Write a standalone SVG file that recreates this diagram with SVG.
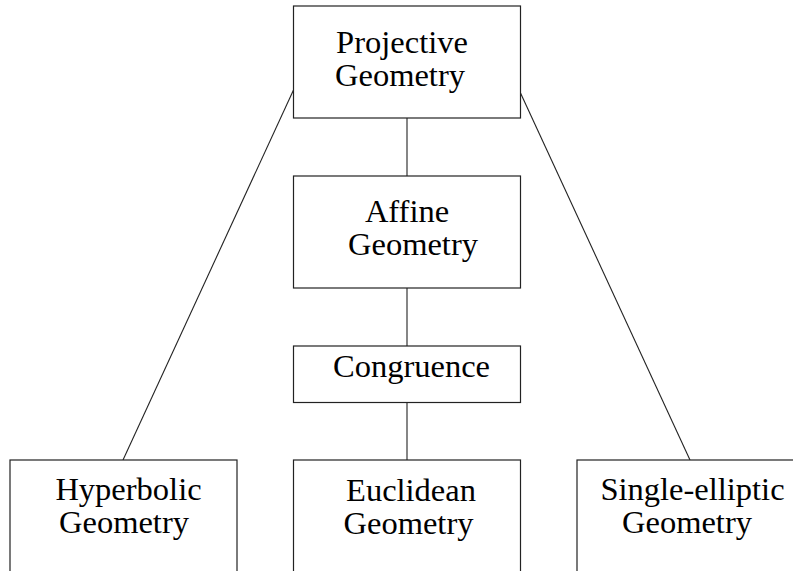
<svg xmlns="http://www.w3.org/2000/svg" width="793" height="571" viewBox="0 0 793 571">
<style>
.box{fill:#fff;stroke:#222;stroke-width:1.2}
line{stroke:#222;stroke-width:1.1}
text{font-family:"Liberation Serif","DejaVu Serif",serif;font-size:32.5px;fill:#000;text-anchor:middle}
</style>
<rect x="0" y="0" width="793" height="571" fill="#fff"/>
<g id="connectors">
<line x1="407" y1="118" x2="407" y2="176"/>
<line x1="407" y1="288" x2="407" y2="346"/>
<line x1="407" y1="402.5" x2="407" y2="460"/>
<line x1="293.5" y1="90" x2="123" y2="460"/>
<line x1="520.5" y1="93" x2="690" y2="460"/>
</g>
<g id="projective">
<rect class="box" x="293.5" y="6" width="227" height="112"/>
<text x="402" y="52.5">Projective</text>
<text x="400" y="85.5">Geometry</text>
</g>
<g id="affine">
<rect class="box" x="293.5" y="176" width="227" height="112"/>
<text x="407" y="221.5">Affine</text>
<text x="413" y="255">Geometry</text>
</g>
<g id="congruence">
<rect class="box" x="293.5" y="346" width="227" height="56.5"/>
<text x="411.5" y="377">Congruence</text>
</g>
<g id="hyperbolic">
<rect class="box" x="10" y="460" width="227" height="130"/>
<text x="128.5" y="500">Hyperbolic</text>
<text x="124" y="533">Geometry</text>
</g>
<g id="euclidean">
<rect class="box" x="293.5" y="460" width="227" height="130"/>
<text x="411" y="501">Euclidean</text>
<text x="408.5" y="534">Geometry</text>
</g>
<g id="single-elliptic">
<rect class="box" x="577" y="460" width="227" height="130"/>
<text x="692.5" y="500">Single-elliptic</text>
<text x="687" y="533">Geometry</text>
</g>
</svg>
